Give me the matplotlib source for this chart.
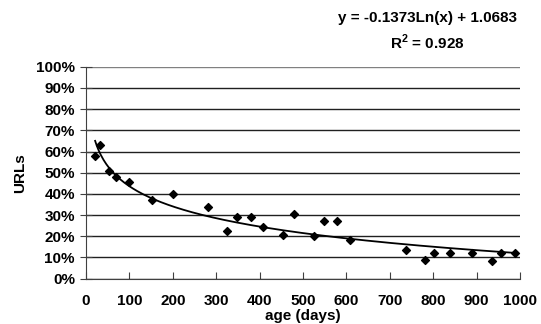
import numpy as np
import matplotlib.pyplot as plt
from matplotlib.ticker import PercentFormatter

plt.rcParams['font.family'] = ['Liberation Sans', 'DejaVu Sans']
plt.rcParams['font.weight'] = 'bold'
plt.rcParams['mathtext.fontset'] = 'custom'
plt.rcParams['mathtext.rm'] = 'Liberation Sans:bold'
plt.rcParams['mathtext.bf'] = 'Liberation Sans:bold'

age_days = [21, 32, 54, 68, 98, 151, 200, 281, 325, 347, 381, 409, 455, 480,
            525, 548, 578, 608, 737, 781, 803, 838, 889, 936, 957, 988]
urls_pct = [58, 63, 51, 48, 45.5, 37, 40, 34, 22.3, 28.9, 28.9, 24.2, 20.7, 30.7,
            19.9, 27, 27.3, 18.3, 13.6, 8.9, 12.2, 12.2, 12.2, 8.5, 12, 12.2]
fit_a = -0.1373
fit_b = 1.0683
r_squared = 0.928

fig = plt.figure(figsize=(5.41, 3.24), dpi=100)
ax = fig.add_axes([0.159, 0.140, 0.802, 0.654])

xs = np.linspace(min(age_days), max(age_days), 300)
ax.plot(xs, (fit_a * np.log(xs) + fit_b) * 100, color='black', lw=1.3, zorder=3)
ax.scatter(age_days, urls_pct, marker='D', s=16, color='black', zorder=4)

ax.set_xlim(0, 1000)
ax.set_ylim(0, 100)
ax.set_xticks(range(0, 1001, 100))
ax.set_yticks(range(0, 101, 10))
ax.yaxis.set_major_formatter(PercentFormatter(decimals=0))
ax.grid(axis='y', color='#202020', lw=1)
ax.get_ygridlines()[-1].set_color('#808080')
ax.set_axisbelow(True)
for s in ['top', 'right']:
    ax.spines[s].set_visible(False)
ax.spines['left'].set_color('#404040')
ax.spines['bottom'].set_color('#404040')
ax.tick_params(axis='x', direction='in', length=5, labelsize=11, pad=11, color='#404040')
ax.tick_params(axis='y', direction='inout', length=8, labelsize=11, pad=4, color='#404040')

ax.set_xlabel('age (days)', fontsize=11, fontweight='bold', labelpad=1)
ax.set_ylabel('URLs', fontsize=11, fontweight='bold', labelpad=6)

fig.text(0.79, 0.945, 'y = %.4fLn(x) + %.4f' % (fit_a, fit_b), ha='center', va='center',
         fontsize=11, fontweight='bold')
fig.text(0.79, 0.87, 'R$^{\\mathbf{2}}$ = %.3f' % r_squared, ha='center', va='center',
         fontsize=11, fontweight='bold')

fig.savefig('out.png', dpi=100)
